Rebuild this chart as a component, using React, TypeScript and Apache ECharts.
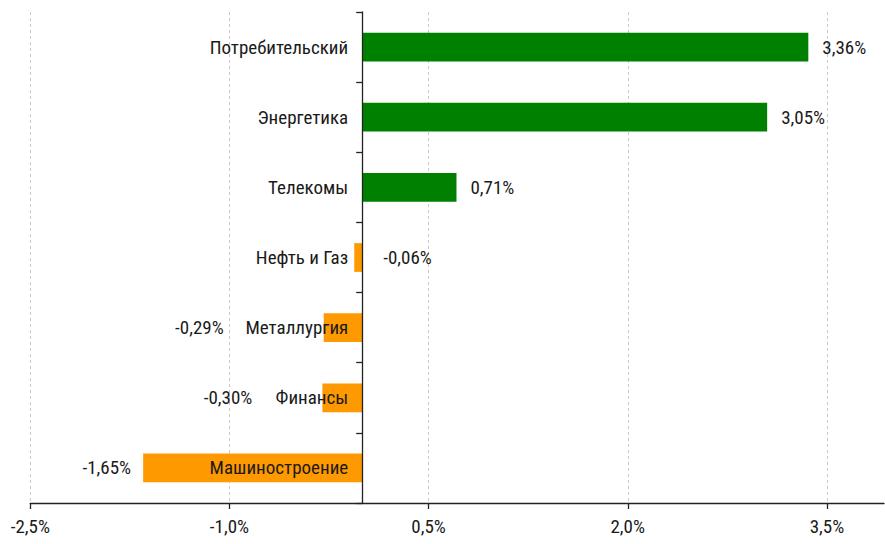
import React, { useEffect, useRef } from "react";
import * as echarts from "echarts";

const categories = [
  "Потребительский",
  "Энергетика",
  "Телекомы",
  "Нефть и Газ",
  "Металлургия",
  "Финансы",
  "Машиностроение",
];
const values = [3.36, 3.05, 0.71, -0.06, -0.29, -0.3, -1.65];
const tickValues = [-2.5, -1.0, 0.5, 2.0, 3.5];
const xMin = -2.5;
const xMax = 3.93;
// label placement per bar (as in the reference)
const labelPos = ["right", "right", "right", "right", "left", "left", "left"];
const labelDist = [14, 14, 14, 21, 100, 70, 12];

const FONT = '"Liberation Sans Narrow", "Arial Narrow", "Roboto Condensed", Roboto, "Liberation Sans", sans-serif';
const fmt = (v: number, d: number) => v.toFixed(d).replace(".", ",") + "%";

const W = 885;
const H = 544;
const GRID_LEFT = 30.3;
const GRID_RIGHT = 1;

export default function App() {
  const ref = useRef<HTMLDivElement>(null);
  useEffect(() => {
    const chart = echarts.init(ref.current!, null, { renderer: "svg" });
    const plotW = W - GRID_LEFT - GRID_RIGHT;
    const zeroOffset = ((0 - xMin) / (xMax - xMin)) * plotW;
    chart.setOption({
      animation: false,
      backgroundColor: "#ffffff",
      grid: {
        left: GRID_LEFT,
        right: GRID_RIGHT,
        top: 12,
        bottom: 41,
        containLabel: false,
        outerBoundsMode: "none",
      },
      xAxis: {
        type: "value",
        min: xMin,
        max: xMax,
        axisLine: { show: true, lineStyle: { color: "#222", width: 1.3 } },
        axisTick: { show: true, length: 6, customValues: tickValues, lineStyle: { color: "#222", width: 1.3 } },
        axisLabel: {
          customValues: tickValues,
          formatter: (v: number) => fmt(v, 1),
          fontFamily: FONT,
          fontSize: 19,
          color: "#1a1a1a",
          margin: 14,
        },
        splitLine: { show: true, lineStyle: { color: "#c8c8c8", type: [3, 3], width: 1 } },
      },
      yAxis: {
        type: "category",
        inverse: true,
        data: categories,
        position: "left",
        offset: -zeroOffset,
        z: 5,
        axisLine: { show: true, onZero: false, lineStyle: { color: "#222", width: 1.3 } },
        axisTick: { show: true, length: 6, lineStyle: { color: "#222", width: 1.3 } },
        axisLabel: { fontFamily: FONT, fontSize: 19, color: "#1a1a1a", margin: 14 },
        splitLine: { show: false },
      },
      series: [
        {
          type: "bar",
          barWidth: "41%",
          data: values.map((v, i) => ({
            value: v,
            itemStyle: { color: v >= 0 ? "#008000" : "#FF9900" },
            label: {
              show: true,
              position: labelPos[i],
              distance: labelDist[i],
              formatter: () => fmt(v, 2),
              fontFamily: FONT,
              fontSize: 19,
              color: "#1a1a1a",
            },
          })),
        },
      ],
    });
    return () => chart.dispose();
  }, []);
  return (
    <div
      ref={ref}
      style={{ position: "fixed", left: 0, top: 0, width: W, height: H }}
    />
  );
}
